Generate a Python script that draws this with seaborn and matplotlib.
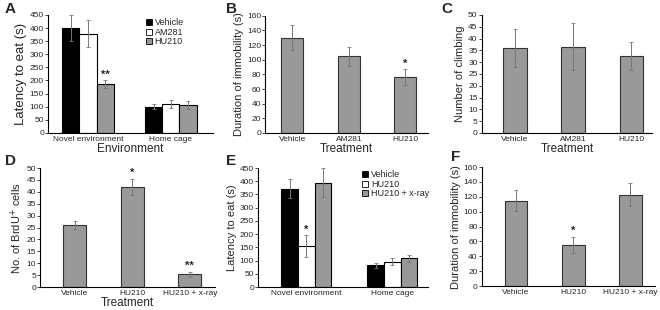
import pandas as pd
import seaborn as sns
import matplotlib.pyplot as plt

# Панель A
a_env = ['Novel environment', 'Home cage']
a_groups = ['Vehicle', 'AM281', 'HU210']
a_vals = {'Vehicle': [400, 100], 'AM281': [378, 110], 'HU210': [185, 106]}
a_errs = {'Vehicle': [50, 9], 'AM281': [52, 15], 'HU210': [15, 15]}

# Панель B
b_cats = ['Vehicle', 'AM281', 'HU210']
b_vals = [130, 105, 76]
b_errs = [17, 13, 11]

# Панель C
c_cats = ['Vehicle', 'AM281', 'HU210']
c_vals = [36, 36.5, 32.5]
c_errs = [8, 10, 6]

# Панель D
d_cats = ['Vehicle', 'HU210', 'HU210 + x-ray']
d_vals = [26, 42, 5.3]
d_errs = [1.8, 3.5, 1.0]

# Панель E
e_env = ['Novel environment', 'Home cage']
e_groups = ['Vehicle', 'HU210', 'HU210 + x-ray']
e_vals = {'Vehicle': [372, 82], 'HU210': [155, 95], 'HU210 + x-ray': [395, 108]}
e_errs = {'Vehicle': [37, 10], 'HU210': [40, 13], 'HU210 + x-ray': [55, 12]}

# Панель F
f_cats = ['Vehicle', 'HU210', 'HU210 + x-ray']
f_vals = [115, 55, 123]
f_errs = [14, 11, 15]

sns.set_style('white')
plt.rcParams['font.family'] = ['Liberation Sans', 'DejaVu Sans']

GRAY = '#999999'
EDGE = '#333333'
ERRC = '#777777'
W, H = 660, 310

fig = plt.figure(figsize=(6.6, 3.1), dpi=100)


def style_axes(ax, ylim, yticks, xlim, ylabel, xlabel, ysize=8):
    sns.despine(ax=ax)
    ax.set_ylim(*ylim)
    ax.set_yticks(yticks)
    ax.set_xlim(*xlim)
    ax.set_ylabel(ylabel, fontsize=ysize, labelpad=2)
    ax.set_xlabel(xlabel, fontsize=8.5, labelpad=0)
    ax.tick_params(axis='y', labelsize=6, length=2, width=0.6, pad=1, direction='out', left=True)
    ax.tick_params(axis='x', labelsize=6, length=0, pad=2)
    for s in ['left', 'bottom']:
        ax.spines[s].set_linewidth(0.8)
        ax.spines[s].set_color('black')


def letter(px, py, txt):
    fig.text(px / W, 1 - py / H, txt, fontsize=11, fontweight='bold',
             ha='left', va='center')


def add_errs(ax, bars, errs):
    for bar, e in zip(bars, errs):
        x = bar.get_x() + bar.get_width() / 2
        ax.errorbar(x, bar.get_height(), yerr=e, fmt='none', ecolor=ERRC,
                    elinewidth=0.7, capsize=1.5, capthick=0.6)


def star(ax, bars, idx, errs, txt, off):
    bar = bars[idx]
    x = bar.get_x() + bar.get_width() / 2
    ax.text(x, bar.get_height() + errs[idx] + off, txt, ha='center',
            va='bottom', fontsize=8, fontweight='bold')


def simple_panel(rect, cats, vals, errs, width):
    ax = fig.add_axes(rect)
    df = pd.DataFrame({'cat': cats, 'val': vals})
    sns.barplot(data=df, x='cat', y='val', color=GRAY, width=width,
                edgecolor=EDGE, linewidth=0.8, errorbar=None, ax=ax)
    for p in ax.patches:
        p.set_facecolor(GRAY)
    add_errs(ax, ax.patches, errs)
    return ax


def grouped_panel(rect, envs, groups, vals, errs, colors, width, anchor):
    ax = fig.add_axes(rect)
    rows = []
    for g in groups:
        for env, v in zip(envs, vals[g]):
            rows.append({'env': env, 'group': g, 'val': v})
    df = pd.DataFrame(rows)
    sns.barplot(data=df, x='env', y='val', hue='group', hue_order=groups,
                palette=colors, width=width, edgecolor='black', linewidth=0.8,
                errorbar=None, saturation=1, ax=ax)
    for cont, g in zip(ax.containers, groups):
        add_errs(ax, cont, errs[g])
    leg = ax.legend(loc='upper left', bbox_to_anchor=anchor, fontsize=6.5,
                    frameon=False, handlelength=0.7, handleheight=0.7,
                    handletextpad=0.3, labelspacing=0.05, borderaxespad=0,
                    borderpad=0)
    for h in leg.legend_handles:
        h.set_edgecolor('black')
        h.set_linewidth(0.6)
    return ax


# A
axA = grouped_panel([0.073, 0.571, 0.250, 0.381], a_env, a_groups, a_vals, a_errs,
                    ['black', 'white', GRAY], 0.62, (0.59, 0.97))
style_axes(axA, (0, 450), range(0, 451, 50), (-0.48, 1.51),
           'Latency to eat (s)', 'Environment', ysize=9.5)
star(axA, axA.containers[2], 0, a_errs['HU210'], '**', 2)

# B
axB = simple_panel([0.402, 0.571, 0.247, 0.378], b_cats, b_vals, b_errs, 0.39)
style_axes(axB, (0, 160), range(0, 161, 20), (-0.48, 2.41),
           'Duration of immobility (s)', 'Treatment')
star(axB, axB.patches, 2, b_errs, '*', 1)

# C
axC = simple_panel([0.730, 0.571, 0.258, 0.381], c_cats, c_vals, c_errs, 0.4)
style_axes(axC, (0, 50), range(0, 51, 5), (-0.57, 2.36),
           'Number of climbing', 'Treatment')

# D
axD = simple_panel([0.061, 0.074, 0.265, 0.384], d_cats, d_vals, d_errs, 0.4)
style_axes(axD, (0, 50), range(0, 51, 5), (-0.6, 2.44),
           'No. of BrdU$^{+}$ cells', 'Treatment')
star(axD, axD.patches, 1, d_errs, '*', 0.5)
star(axD, axD.patches, 2, d_errs, '**', 0.5)

# E
axE = grouped_panel([0.391, 0.074, 0.258, 0.384], e_env, e_groups, e_vals, e_errs,
                    ['black', 'white', GRAY], 0.58, (0.61, 0.98))
style_axes(axE, (0, 450), range(0, 451, 50), (-0.56, 1.42),
           'Latency to eat (s)', '')
star(axE, axE.containers[1], 0, e_errs['HU210'], '*', 2)

# F
axF = simple_panel([0.730, 0.077, 0.262, 0.384], f_cats, f_vals, f_errs, 0.4)
style_axes(axF, (0, 160), range(0, 161, 20), (-0.6, 2.43),
           'Duration of immobility (s)', '')
star(axF, axF.patches, 1, f_errs, '*', 1)

# Буквы панелей
letter(5, 9, 'A')
letter(226, 9, 'B')
letter(441, 9, 'C')
letter(5, 161, 'D')
letter(226, 161, 'E')
letter(451, 157, 'F')

fig.savefig('out.png', dpi=100)
